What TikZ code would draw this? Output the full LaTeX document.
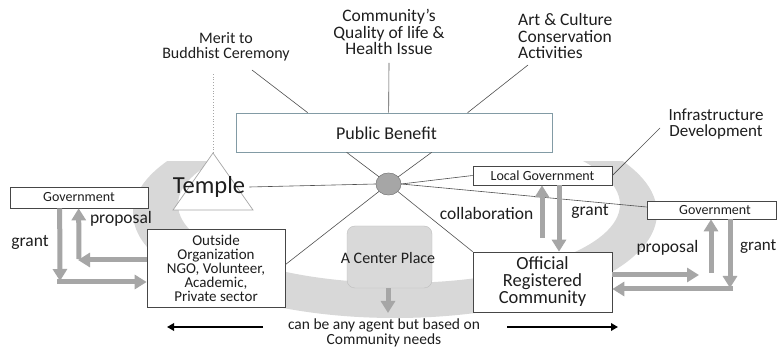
\documentclass[tikz,border=0pt]{standalone}
\usepackage{fontspec}
\setmainfont{Carlito}
\usetikzlibrary{arrows.meta,shapes.geometric,calc}

\definecolor{ringgray}{RGB}{216,216,216}
\definecolor{arrowgray}{RGB}{166,166,166}
\definecolor{linegray}{RGB}{80,80,80}
\definecolor{boxline}{RGB}{70,70,70}
\definecolor{pbline}{RGB}{130,155,165}
\definecolor{txt}{RGB}{30,30,30}
\definecolor{cpfill}{RGB}{217,217,217}
\definecolor{cpline}{RGB}{190,190,190}

\tikzset{
  box/.style={draw=boxline, line width=0.7pt, fill=white, inner sep=0pt, text=txt},
  conn/.style={draw=linegray, line width=0.6pt},
  garrow/.style={draw=arrowgray, line width=5pt, -{Triangle[length=12pt,width=14pt]}},
  barrow/.style={draw=black, line width=2.4pt, -{Triangle[length=7pt,width=7.5pt]}},
  lbl/.style={text=txt, inner sep=0pt, align=center},
}

\newcommand{\fs}[2]{\fontsize{#1}{#2}\selectfont}

\begin{document}
\begin{tikzpicture}[x=1pt,y=-1pt]
\useasboundingbox (0,0) rectangle (777,347);
\fill[white] (0,0) rectangle (777,347);

% open grey band behind the hub
\begin{scope}
  \clip (0,162) rectangle (777,347);
  \fill[ringgray, even odd rule]
    (395,213) ellipse [x radius=262, y radius=105]
    (399,204.5) ellipse [x radius=221, y radius=78.5];
\end{scope}

% top labels
\node[lbl, font=\fs{16}{15.5}] (merit) at (226,47) {Merit to\\Buddhist Ceremony};
\node[lbl, font=\fs{17.5}{16.8}] (comm) at (389,32) {Community’s\\Quality of life \&\\Health Issue};
\node[lbl, font=\fs{17.5}{16.8}, align=left, anchor=west] (art) at (518,36) {Art \& Culture\\Conservation\\Activities};
\node[lbl, font=\fs{17}{16.5}] (infra) at (716,124) {Infrastructure\\Development};

\coordinate (mtail) at (213,72);
\coordinate (m1) at (252,70);
\coordinate (c1) at (389,63);
\coordinate (a1) at (528,65);
\coordinate (i1) at (660,128);

% public benefit box
\node[box, draw=pbline, minimum width=316pt, minimum height=39pt] (pb) at (394,132.5) {};
\node[lbl, font=\fs{18}{18}] (pbt) at (386.5,133) {Public Benefit};

\draw[conn] ($(pb.north west)+(72,0)$) -- (m1);
\draw[conn] ($(pb.north west)+(153,0)$) -- (c1);
\draw[conn] ($(pb.north west)+(232,0)$) -- (a1);

% temple
\coordinate (tapex) at (213,153);
\draw[draw=arrowgray, line width=0.7pt, fill=white] (tapex) -- (173,210) -- (253,210) -- cycle;
\draw[draw=arrowgray, line width=0.8pt, dotted] (tapex) -- (mtail);
\node[lbl, font=\fs{24.5}{26}] (temple) at (209,187) {Temple};

% boxes
\node[box, minimum width=138pt, minimum height=21pt, font=\fs{14}{14}] (gl) at (79,197.5) {Government};
\node[box, minimum width=138pt, minimum height=78pt, font=\fs{15}{14}, align=center] (org) at (216,268)
  {Outside\\Organization\\NGO, Volunteer,\\Academic,\\Private sector};
\node[box, minimum width=139pt, minimum height=19pt, font=\fs{14}{14}] (lg) at (542.5,175.5) {Local Government};
\node[box, minimum width=129.5pt, minimum height=18pt] (gr) at (711.75,210) {};
\node[lbl, font=\fs{14}{14}] (grt) at (715,210) {Government};
\node[box, minimum width=139pt, minimum height=60pt, font=\fs{18.5}{17}, align=center] (orc) at (542.5,282)
  {Official\\Registered\\Community};

% centre place
\node[draw=cpline, fill=cpfill, rounded corners=8pt, minimum width=85pt, minimum height=62pt] (cp) at (389.5,257) {};
\node[lbl, font=\fs{16}{16}] (cpt) at (388,258) {A Center Place};

% hub and spokes
\node[ellipse, draw=gray, fill=arrowgray, minimum width=25pt, minimum height=22pt, inner sep=0pt] (hub) at (388.5,184) {};
\draw[conn] ($(pb.south west)+(111,0)$) -- (hub.center) -- (orc.north west);
\draw[conn] ($(pb.south west)+(196,0)$) -- (hub.center) -- ($(org.north east)+(0,36)$);
\draw[conn] (temple.east) ++(4,0) -- (hub.west);
\draw[conn] (hub.east) -- (lg.west);
\draw[conn] (hub.east) -- ($(gr.west)+(0,-3)$);
\draw[conn] (lg.east) -- (i1);
\node[ellipse, draw=gray, fill=arrowgray, minimum width=25pt, minimum height=22pt, inner sep=0pt] at (hub) {};

% exchanges on the left
\draw[garrow] ($(gl.south west)+(50,0)$) -- (60,281);
\draw[garrow] (57,282) -- (org.west |- 0,282);
\draw[garrow] (org.west |- 0,260) -- (78,260);
\draw[garrow] (79,259) -- ($(gl.south west)+(69,0)$);
\node[lbl, font=\fs{17.5}{17}] (lgrant) at (30,242) {grant};
\node[lbl, font=\fs{17.5}{17}] (lprop) at (121,219) {proposal};

% exchanges with local government
\draw[garrow] (542,238) -- (lg.south -| 542,0);
\draw[garrow] (lg.south -| 559,0) -- (orc.north -| 559,0);
\node[lbl, font=\fs{17.5}{17}] (collab) at (486.5,213) {collaboration};
\node[lbl, font=\fs{17.5}{17}] (mgrant) at (590,211) {grant};

% exchanges on the right
\draw[garrow] (orc.east |- 0,275) -- (699,275);
\draw[garrow] (711,273) -- (gr.south -| 711,0);
\draw[garrow] (gr.south -| 730,0) -- (730,288);
\draw[garrow] (733,289) -- (orc.east |- 0,289);
\node[lbl, font=\fs{17.5}{17}] (rprop) at (667.5,248) {proposal};
\node[lbl, font=\fs{17}{17}, anchor=west] (rgrant) at (740,247) {grant};

% centre place downward
\draw[garrow] (cp.south -| 388,0) -- (388,313);

% bottom note
\node[lbl, font=\fs{15.5}{15}] (note) at (384,333) {can be any agent but based on\\Community needs};
\coordinate (ls) at (263,327);
\coordinate (le) at (167,327);
\coordinate (rs) at (507,327);
\coordinate (re) at (618,327);
\draw[barrow] (ls) -- (le);
\draw[barrow] (rs) -- (re);
\end{tikzpicture}
\end{document}
